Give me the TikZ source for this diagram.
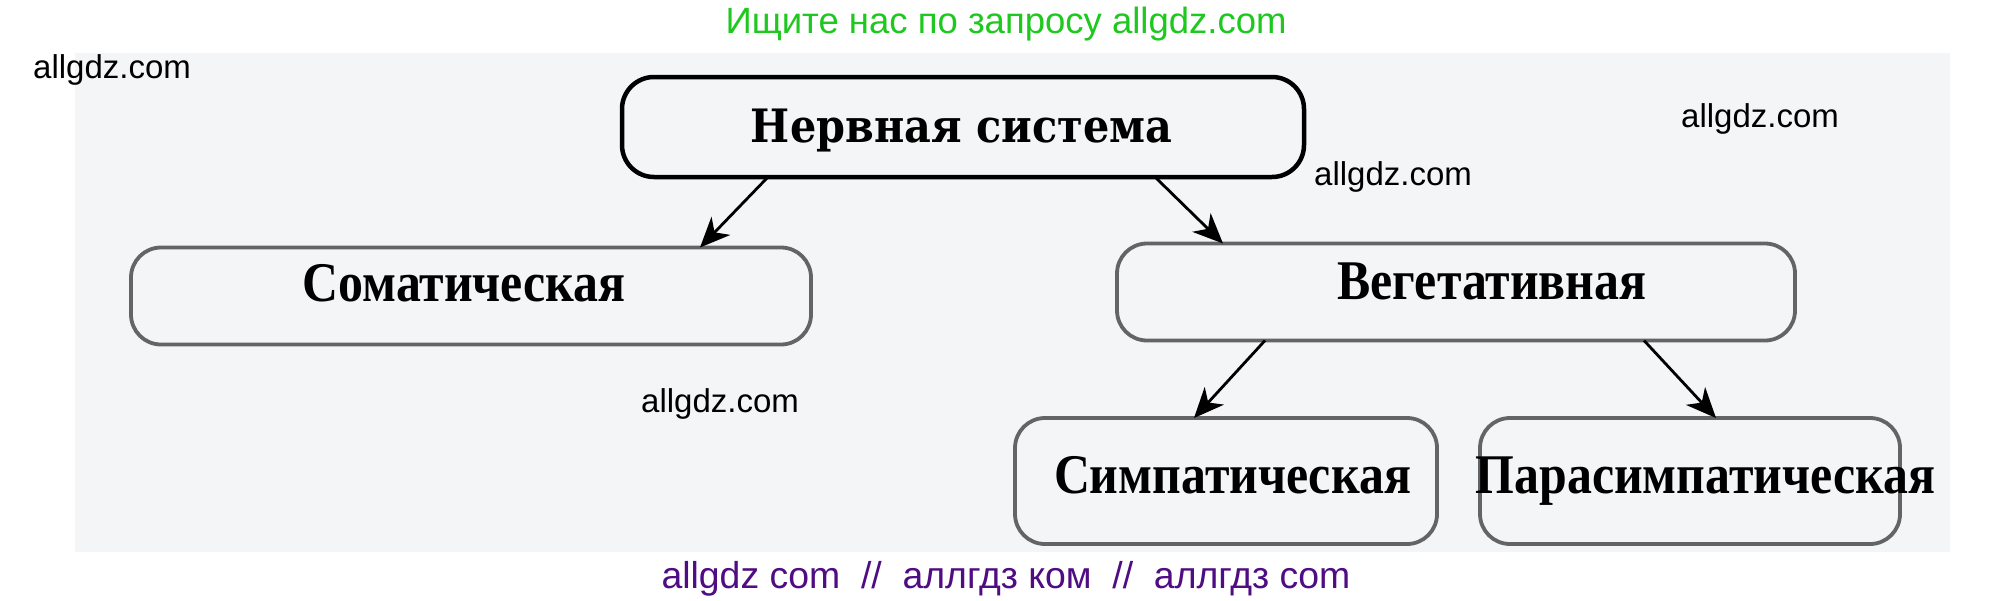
\documentclass[tikz,border=0pt]{standalone}
\usepackage{fontspec}
\setmainfont{Liberation Serif}
\newfontfamily\boxfont[FakeStretch=0.89]{Liberation Serif}
\newfontfamily\wmfont{Liberation Sans}
\newfontfamily\headfont[FakeStretch=0.9]{DejaVu Serif}
\usetikzlibrary{arrows.meta}
\definecolor{wmgreen}{RGB}{30,200,30}
\definecolor{wmpurple}{RGB}{80,12,130}
\definecolor{scanbg}{RGB}{244,245,247}
\definecolor{boxgray}{RGB}{100,100,100}
\begin{document}
\begin{tikzpicture}[x=1pt,y=-1pt,
  mainbox/.style={draw=black,line width=4.5pt,rounded corners=32pt,inner sep=0pt,outer sep=0pt},
  subbox/.style={draw=boxgray,line width=3.8pt,rounded corners=30pt,inner sep=0pt,outer sep=0pt},
  headtext/.style={anchor=base,inner sep=0pt,font=\headfont\bfseries\fontsize{46}{50}\selectfont},
  boxtext/.style={anchor=base,inner sep=0pt,font=\boxfont\bfseries\fontsize{56}{62}\selectfont},
  wm/.style={anchor=base west,inner sep=0pt,font=\wmfont\fontsize{33}{38}\selectfont},
  wmtop/.style={anchor=base,inner sep=0pt,text=wmgreen,font=\wmfont\fontsize{36.5}{40}\selectfont},
  wmbottom/.style={anchor=base,inner sep=0pt,text=wmpurple,font=\wmfont\fontsize{37.4}{42}\selectfont},
  link/.style={line width=2.8pt,-{Stealth[length=30pt,width=26pt,inset=9pt]}}
]
\useasboundingbox (0,0) rectangle (2015,600);
\fill[white] (0,0) rectangle (2015,600);
\fill[scanbg] (75,53) rectangle (1950,552);

% boxes
\node[mainbox,minimum width=682pt,minimum height=100pt] (top) at (963,127) {};
\node[subbox,minimum width=680pt,minimum height=97pt] (soma) at (471,296) {};
\node[subbox,minimum width=678pt,minimum height=97pt] (veg) at (1456,292) {};
\node[subbox,minimum width=422pt,minimum height=126pt] (simp) at (1226,481) {};
\node[subbox,minimum width=420pt,minimum height=126pt] (para) at (1690,481) {};

% texts
\node[headtext] (ttop) at (961.5,142) {Нервная система};
\node[boxtext] (tsoma) at (464,301) {Соматическая};
\node[boxtext] (tveg) at (1492,299) {Вегетативная};
\node[boxtext] (tsimp) at (1232.5,493) {Симпатическая};
\node[boxtext] (tpara) at (1705.5,493) {Парасимпатическая};

% arrows
\draw[link] ([xshift=146pt]top.south west) -- ([xshift=569pt]soma.north west);
\draw[link] ([xshift=533pt]top.south west) -- ([xshift=106pt]veg.north west);
\draw[link] ([xshift=148pt]veg.south west) -- ([xshift=179pt]simp.north west);
\draw[link] ([xshift=527pt]veg.south west) -- ([xshift=236pt]para.north west);

% watermarks
\node[wmtop] (w0) at (1006,33) {Ищите нас по запросу allgdz.com};
\node[wm] (w1) at (33,78) {allgdz.com};
\node[wm] (w2) at (1681,127) {allgdz.com};
\node[wm] (w3) at (1314,185) {allgdz.com};
\node[wm] (w4) at (641,412) {allgdz.com};
\node[wmbottom] (w5) at (1006,588) {allgdz com\ \ //\ \ аллгдз ком\ \ //\ \ аллгдз com};
\end{tikzpicture}
\end{document}
